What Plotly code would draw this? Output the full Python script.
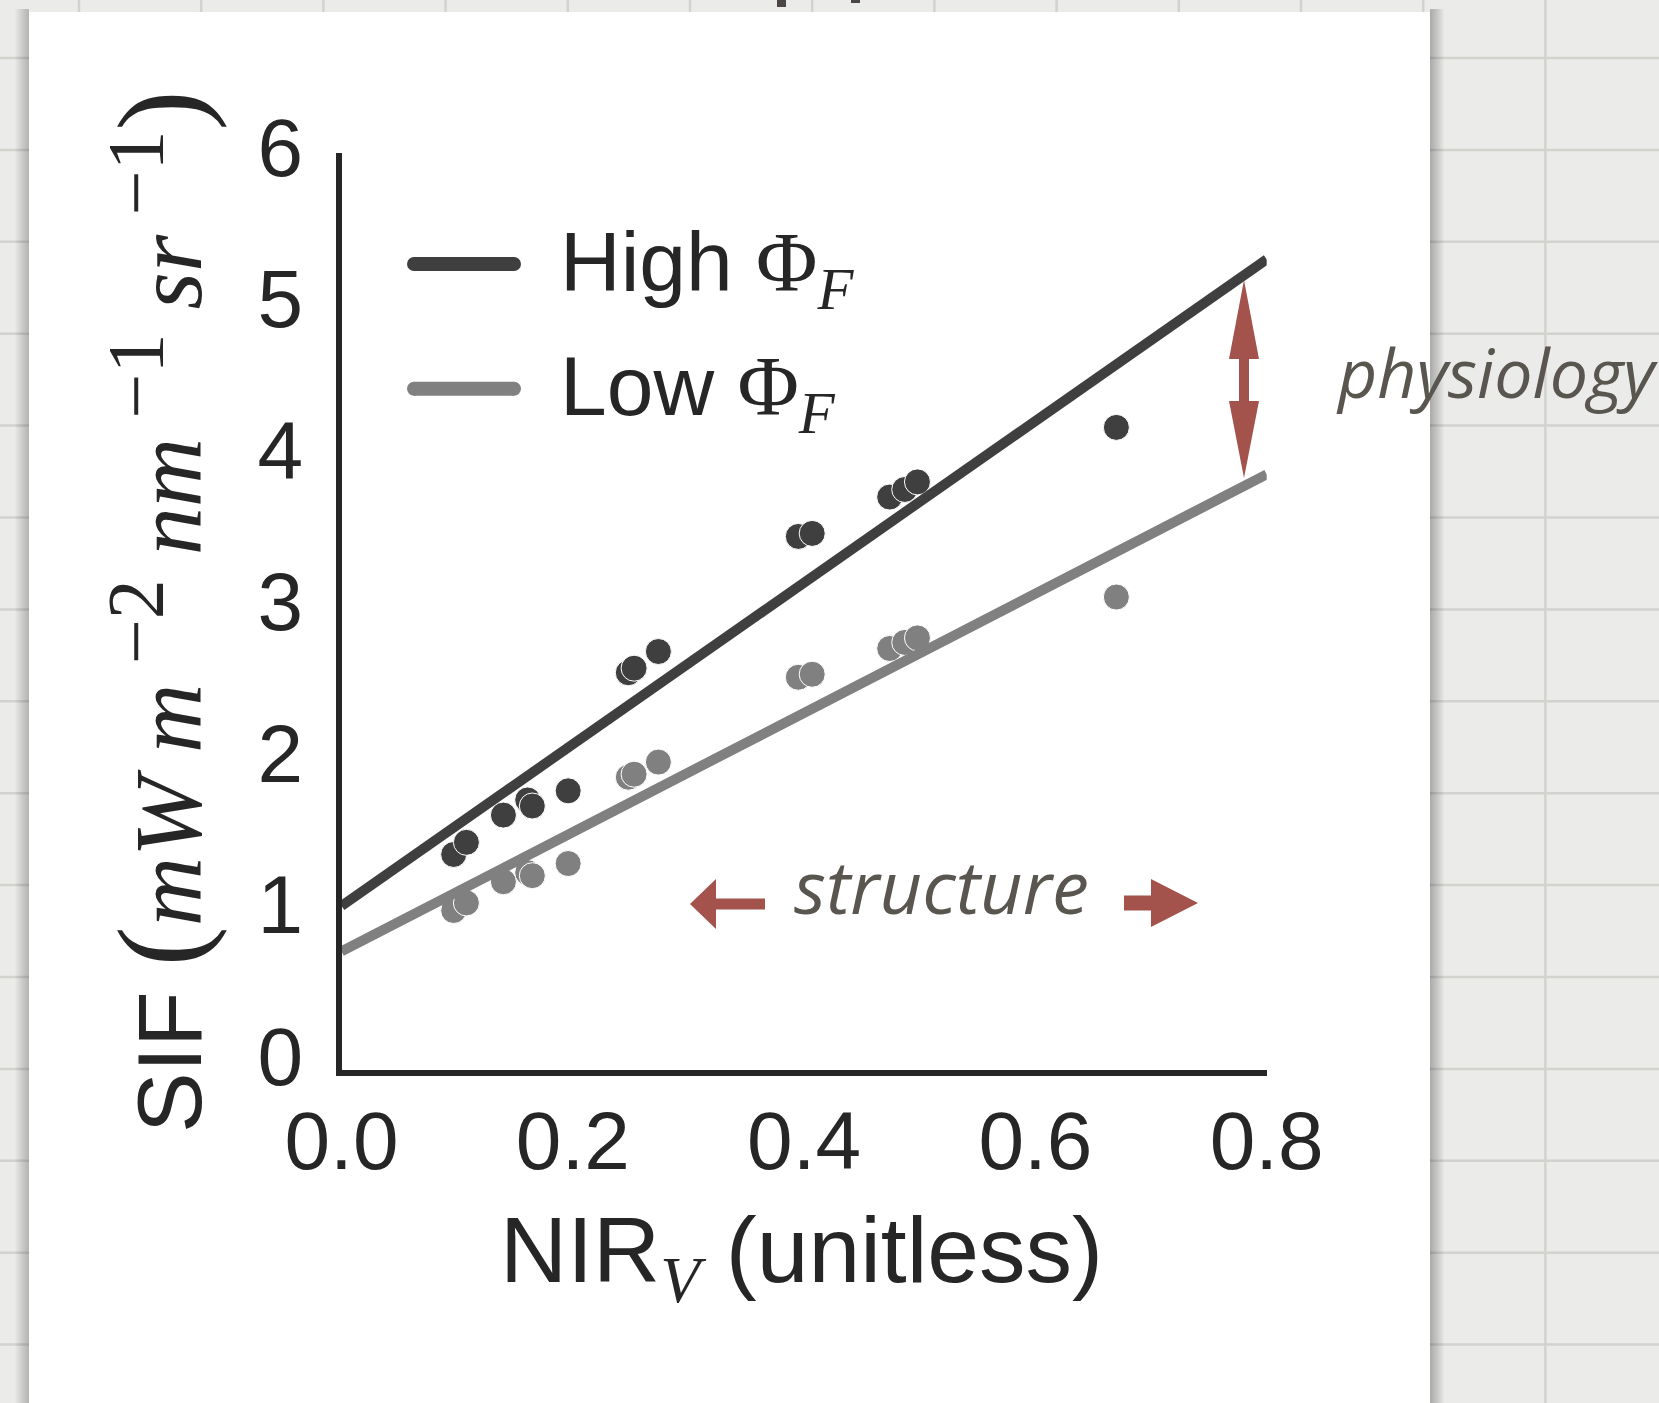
import plotly.graph_objects as go

W, H = 1659, 1403

# ---------------- data ----------------
nirv = [0.097, 0.108, 0.140, 0.161, 0.165, 0.196, 0.248, 0.253, 0.274,
        0.395, 0.407, 0.474, 0.487, 0.498, 0.670]
sif_high = [1.37, 1.45, 1.63, 1.73, 1.69, 1.79, 2.57, 2.60, 2.71,
            3.47, 3.49, 3.73, 3.78, 3.83, 4.19]
sif_low = [1.00, 1.05, 1.19, 1.25, 1.23, 1.31, 1.88, 1.90, 1.98,
           2.54, 2.56, 2.73, 2.77, 2.80, 3.07]
fit_x = [0.0, 0.8]
fit_high = [1.03, 5.30]
fit_low = [0.73, 3.88]
x_ticks = [0.0, 0.2, 0.4, 0.6, 0.8]
x_ticktext = ["0.0", "0.2", "0.4", "0.6", "0.8"]
y_ticks = [0, 1, 2, 3, 4, 5, 6]
y_ticktext = ["0", "1", "2", "3", "4", "5", "6"]

DARK = "#3f3f3f"
GRAY = "#808080"
TXT = "#262626"
RED = "#a3534b"
NOTE = "#59554f"
BG = "#ebebe9"


def px(x):
    return x / W


def py(y):
    return 1 - y / H


def path(points):
    return "M " + " L ".join(f"{px(a):.5f},{py(b):.5f}" for a, b in points) + " Z"


fig = go.Figure()

fig.add_trace(go.Scatter(x=nirv, y=sif_high, mode="markers",
                         marker=dict(size=26, color=DARK, line=dict(width=1, color="white")),
                         showlegend=False, hoverinfo="skip"))
fig.add_trace(go.Scatter(x=nirv, y=sif_low, mode="markers",
                         marker=dict(size=26, color=GRAY, line=dict(width=1, color="white")),
                         showlegend=False, hoverinfo="skip"))
fig.add_trace(go.Scatter(x=fit_x, y=fit_high, mode="lines",
                         line=dict(color=DARK, width=10), showlegend=False, hoverinfo="skip"))
fig.add_trace(go.Scatter(x=fit_x, y=fit_low, mode="lines",
                         line=dict(color=GRAY, width=10), showlegend=False, hoverinfo="skip"))

shapes = []
# background paper grid
for i in range(14):
    xv = 79 + 122.2 * i
    shapes.append(dict(type="line", xref="paper", yref="paper", x0=px(xv), x1=px(xv), y0=0, y1=1,
                       line=dict(color="#d2d2cf", width=2.5), layer="below"))
for i in range(16):
    yv = 58 + 91.9 * i
    shapes.append(dict(type="line", xref="paper", yref="paper", x0=0, x1=1, y0=py(yv), y1=py(yv),
                       line=dict(color="#d2d2cf", width=2.5), layer="below"))
# card shadow
for i in range(1, 15):
    shapes.append(dict(type="rect", xref="paper", yref="paper", x0=px(29 - i), x1=px(29),
                       y0=0, y1=py(12 - min(i, 3)), fillcolor="rgba(0,0,0,0.016)",
                       line=dict(width=0), layer="below"))
    shapes.append(dict(type="rect", xref="paper", yref="paper", x0=px(1430), x1=px(1430 + i),
                       y0=0, y1=py(12 - min(i, 3)), fillcolor="rgba(0,0,0,0.018)",
                       line=dict(width=0), layer="below"))
# white card
shapes.append(dict(type="rect", xref="paper", yref="paper", x0=px(29), x1=px(1430), y0=0, y1=py(12),
                   fillcolor="white", line=dict(width=0), layer="below"))
# fragments of text above the card (cut off)
shapes.append(dict(type="rect", xref="paper", yref="paper", x0=px(777), x1=px(786), y0=py(7), y1=1,
                   fillcolor="#4a4744", line=dict(width=0), layer="below"))
shapes.append(dict(type="rect", xref="paper", yref="paper", x0=px(851), x1=px(860), y0=py(3), y1=1,
                   fillcolor="#4a4744", line=dict(width=0), layer="below"))

# legend samples
for yv, col in [(264, DARK), (388.7, GRAY)]:
    shapes.append(dict(type="line", xref="paper", yref="paper", x0=px(414), x1=px(514),
                       y0=py(yv), y1=py(yv), line=dict(color=col, width=14)))
    for xc in (414, 514):
        shapes.append(dict(type="circle", xref="paper", yref="paper", x0=px(xc - 7), x1=px(xc + 7),
                           y0=py(yv + 7), y1=py(yv - 7), fillcolor=col, line=dict(width=0)))

# red arrows
shapes.append(dict(type="path", xref="paper", yref="paper", fillcolor=RED, line=dict(width=0),
                   path=path([(690, 904), (716, 879), (716, 898.5), (765, 898.5), (765, 909.5),
                              (716, 909.5), (716, 929)])))
shapes.append(dict(type="path", xref="paper", yref="paper", fillcolor=RED, line=dict(width=0),
                   path=path([(1124, 895.5), (1151, 895.5), (1151, 879), (1198, 903), (1151, 927),
                              (1151, 910.5), (1124, 910.5)])))
shapes.append(dict(type="path", xref="paper", yref="paper", fillcolor=RED, line=dict(width=0),
                   path=path([(1244, 280), (1259, 359), (1249, 359), (1249, 401), (1259, 401),
                              (1244, 478), (1229, 401), (1239, 401), (1239, 359), (1229, 359)])))

SERIF = "font-family:Liberation Serif"
MATH = f"{SERIF};font-size:96px"
SUPF = f"{SERIF};font-size:80px"
PAREN = f"{SERIF};font-size:120px"
ytitle = (f'SIF <span style="{PAREN}">(</span>'
          f'<span style="{MATH}"><i>mW m</i>\u2009</span>'
          f'<sup><span style="{SUPF}">−2</span></sup>'
          f'<span style="{MATH}"><i> nm</i>\u2009</span>'
          f'<sup><span style="{SUPF}">−1</span></sup>'
          f'<span style="{MATH}"><i> sr</i>\u2009</span>'
          f'<sup><span style="{SUPF}">−1</span></sup>'
          f'<span style="{PAREN}">)</span>')

annotations = [
    dict(text=f'High <span style="{SERIF}">Φ</span><sub><span style="{SERIF}"><i>F</i></span></sub>',
         x=px(558), y=py(268), xref="paper", yref="paper", xanchor="left", yanchor="middle",
         showarrow=False, font=dict(family="Liberation Sans", size=84, color=TXT)),
    dict(text=f'Low <span style="{SERIF}">Φ</span><sub><span style="{SERIF}"><i>F</i></span></sub>',
         x=px(558), y=py(392), xref="paper", yref="paper", xanchor="left", yanchor="middle",
         showarrow=False, font=dict(family="Liberation Sans", size=84, color=TXT)),
    dict(text=f'NIR<sub><span style="{SERIF}"><i>V</i></span></sub> (unitless)',
         x=px(801), y=py(1257), xref="paper", yref="paper", xanchor="center", yanchor="middle",
         showarrow=False, font=dict(family="Liberation Sans", size=93, color=TXT)),
    dict(text=ytitle,
         x=px(160), y=py(612), xref="paper", yref="paper", xanchor="center", yanchor="middle",
         textangle=-90, showarrow=False, font=dict(family="Liberation Sans", size=91, color=TXT)),
    dict(text="<i>structure</i>", x=px(941), y=py(885), xref="paper", yref="paper",
         xanchor="center", yanchor="middle", showarrow=False,
         font=dict(family="Open Sans", size=74, color=NOTE)),
    dict(text="<i>physiology</i>", x=px(1497), y=py(371), xref="paper", yref="paper",
         xanchor="center", yanchor="middle", showarrow=False,
         font=dict(family="Open Sans", size=68, color=NOTE)),
]

fig.update_layout(
    width=W, height=H, margin=dict(l=0, r=0, t=0, b=0, pad=0, autoexpand=False),
    paper_bgcolor=BG, plot_bgcolor="rgba(0,0,0,0)",
    shapes=shapes, annotations=annotations, showlegend=False,
    xaxis=dict(domain=[px(341.5), px(1266.7)], range=[0, 0.8], showgrid=False, zeroline=False,
               showline=True, linecolor=TXT, linewidth=6, ticks="", tickvals=x_ticks,
               ticktext=x_ticktext, tickfont=dict(family="Liberation Sans", size=82, color=TXT),
               ticklabelstandoff=-5, automargin=False),
    yaxis=dict(domain=[py(1069.5), py(153.3)], range=[-0.05, 6.0], showgrid=False, zeroline=False,
               showline=True, linecolor=TXT, linewidth=6, ticks="", tickvals=y_ticks,
               ticktext=y_ticktext, tickfont=dict(family="Liberation Sans", size=82, color=TXT),
               ticklabelstandoff=16, ticklabelshift=-6, automargin=False),
)

fig.write_html("out.html")
